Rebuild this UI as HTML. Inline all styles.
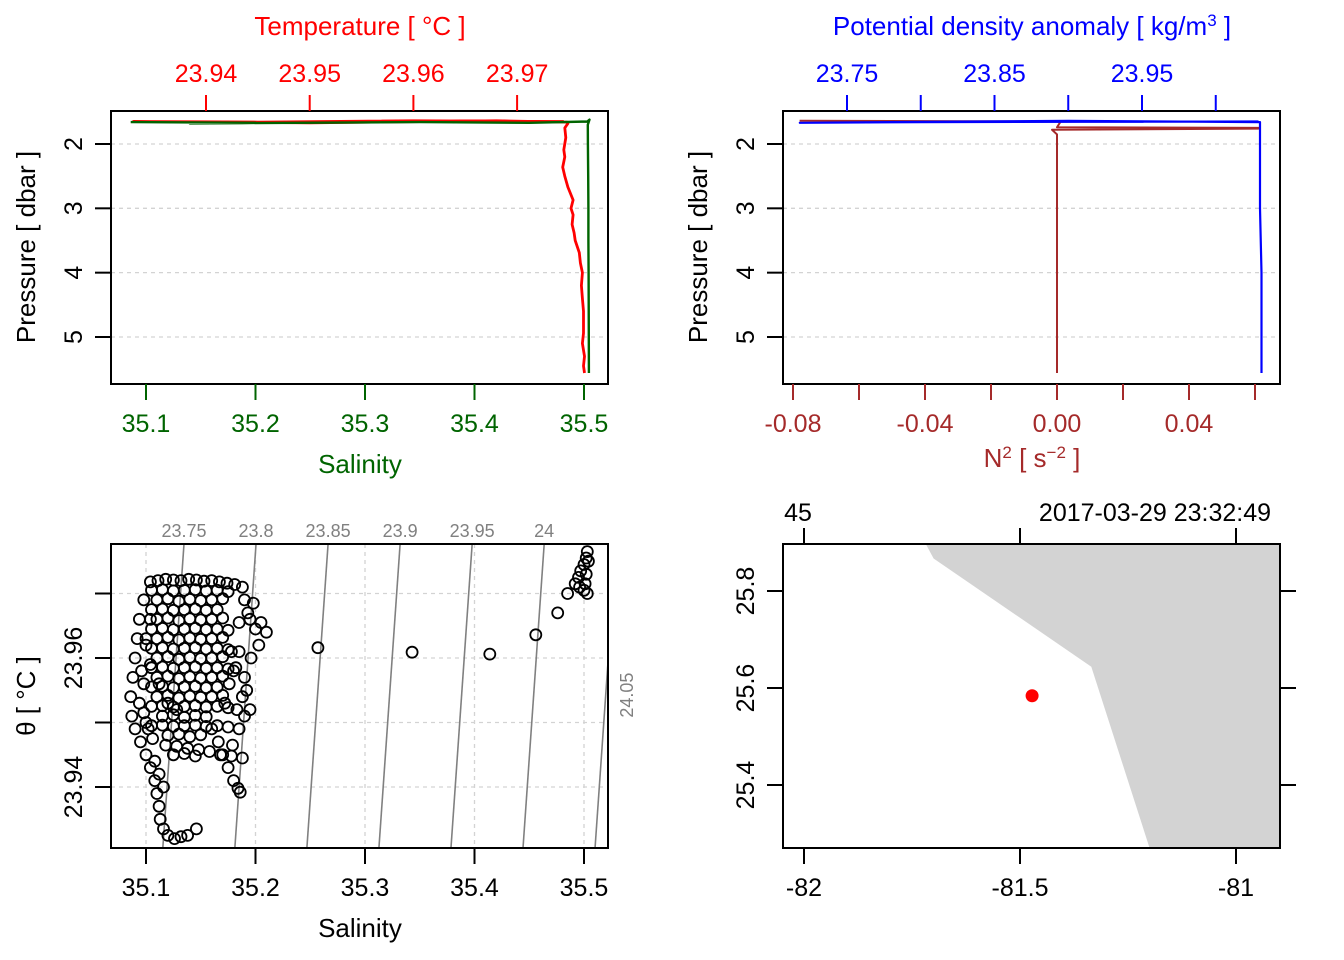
<!DOCTYPE html>
<html><head><meta charset="utf-8"><style>
html,body{margin:0;padding:0;background:#fff}
svg{display:block;font-family:"Liberation Sans",sans-serif}
</style></head><body>
<svg id="s" width="1344" height="960" viewBox="0 0 1344 960">
<defs>
<clipPath id="c1"><rect x="111" y="111" width="497" height="273"/></clipPath>
<clipPath id="c2"><rect x="783" y="111" width="497" height="273"/></clipPath>
<clipPath id="c3"><rect x="111" y="544" width="497" height="304"/></clipPath>
<clipPath id="c4"><rect x="783" y="544" width="497" height="304"/></clipPath>
</defs>
</svg>
<script>
// ---- data ----
const salTicks=[35.1,35.2,35.3,35.4,35.5];
const tempTicks=[23.94,23.95,23.96,23.97];
const presTicks=[2,3,4,5];
const sigTicks=[23.75,23.80,23.85,23.90,23.95,24.00];
const sigTickLabels=["23.75","","23.85","","23.95",""];
const n2Ticks=[-0.08,-0.06,-0.04,-0.02,0.00,0.02,0.04,0.06];
const n2TickLabels=["-0.08","","-0.04","","0.00","","0.04",""];
const thetaTicks=[23.94,23.95,23.96,23.97];
const thetaTickLabels=["23.94","","23.96",""];
const isoLevels=[23.75,23.8,23.85,23.9,23.95,24,24.05];
const isoLabels=["23.75","23.8","23.85","23.9","23.95","24","24.05"];
const lonTicks=[-82,-81.5,-81];
const latTicks=[25.4,25.6,25.8];
// temperature profile
const tPres=[1.65,1.64,1.66,1.65,1.67,1.64,1.66,1.68,1.75,1.9,2.09,2.2,2.36,2.5,2.67,2.87,3.0,3.1,3.25,3.38,3.5,3.69,3.85,4.0,4.2,4.4,4.6,4.94,5.1,5.3,5.45,5.56];
const tTemp=[23.9745,23.960,23.945,23.933,23.950,23.968,23.9748,23.9749,23.9746,23.9747,23.9745,23.9746,23.9744,23.9746,23.9749,23.9754,23.9752,23.9754,23.9753,23.9755,23.9756,23.9760,23.9761,23.9763,23.9762,23.9763,23.9764,23.9764,23.9763,23.9765,23.9764,23.9765];
// salinity profile
const sPres=[1.66,1.67,1.68,1.66,1.67,1.65,1.62,1.70,2.0,2.5,3.0,3.5,4.0,4.5,5.0,5.56];
const sSal=[35.086,35.20,35.14,35.35,35.45,35.503,35.505,35.5035,35.5036,35.5038,35.504,35.504,35.5042,35.5043,35.5044,35.5045];
// density profile
const dPres=[1.65,1.66,1.67,1.64,1.66,1.70,2.0,3.0,4.0,5.0,5.56];
const dSig=[24.029,23.80,23.718,23.90,24.030,24.030,24.030,24.030,24.031,24.031,24.031];
// N2 profile
const nPres=[1.64,1.65,1.66,1.74,1.75,1.76,1.78,1.85,2.5,3.5,4.5,5.56];
const nN2=[-0.078,0.0,0.001,0.0,0.0615,0.061,-0.0015,0.0,0.0,0.0,0.0,0.0];
// TS scatter
const tsSal=[35.104,35.111,35.118,35.125,35.132,35.139,35.146,35.153,35.160,35.167,35.174,35.181,
35.098,35.094,35.092,35.090,35.088,35.086,35.087,35.090,35.095,35.100,35.104,35.108,35.110,
35.112,35.113,35.116,35.120,35.126,35.132,35.138,35.146,
35.188,35.190,35.193,35.200,35.210,35.203,35.196,35.190,35.188,35.190,35.185,
35.160,35.166,35.170,35.175,35.180,35.184,35.186,
35.110,35.120,35.130,35.140,35.150,35.160,35.170,35.110,35.120,35.130,35.140,35.150,35.160,35.170,
35.110,35.120,35.130,35.140,35.150,35.160,35.170,35.110,35.120,35.130,35.140,35.150,35.160,35.170,
35.110,35.120,35.130,35.140,35.150,35.160,35.170,35.110,35.120,35.130,35.140,35.150,35.160,35.170,
35.105,35.115,35.125,35.135,35.145,35.155,35.165,35.105,35.115,35.125,35.135,35.145,35.155,35.165,
35.115,35.125,35.135,35.145,35.155,35.120,35.130,35.140,35.150,35.125,35.135,35.145,
35.100,35.105,35.112,35.120,35.128,35.100,35.098,35.104,35.178,35.182,35.176,35.172,35.183,35.179,
35.257,35.343,35.414,35.456,35.476,35.485,
35.492,35.495,35.497,35.500,35.502,35.503,35.504,35.502,35.501,35.503,35.500,35.496];
const tsTheta=[23.9718,23.9720,23.9722,23.9721,23.9720,23.9722,23.9721,23.9719,23.9720,23.9718,23.9716,23.9714,
23.9690,23.9660,23.9630,23.9600,23.9570,23.9540,23.9510,23.9490,23.9470,23.9450,23.9430,23.9410,23.9390,
23.9370,23.9350,23.9335,23.9325,23.9320,23.9323,23.9325,23.9335,
23.9710,23.9690,23.9670,23.9645,23.9640,23.9620,23.9600,23.9570,23.9540,23.9510,23.9490,
23.9490,23.9470,23.9450,23.9430,23.9410,23.9398,23.9392,
23.9690,23.9692,23.9688,23.9691,23.9689,23.9690,23.9692,23.9660,23.9662,23.9658,23.9661,23.9659,23.9660,23.9662,
23.9630,23.9632,23.9628,23.9631,23.9629,23.9630,23.9632,23.9600,23.9602,23.9598,23.9601,23.9599,23.9600,23.9602,
23.9570,23.9572,23.9568,23.9571,23.9569,23.9570,23.9572,23.9540,23.9542,23.9538,23.9541,23.9539,23.9540,23.9542,
23.9675,23.9676,23.9674,23.9675,23.9676,23.9674,23.9675,23.9555,23.9556,23.9554,23.9555,23.9556,23.9554,23.9555,
23.9510,23.9512,23.9508,23.9511,23.9509,23.9480,23.9482,23.9478,23.9481,23.9450,23.9452,23.9448,
23.9620,23.9585,23.9560,23.9530,23.9520,23.9500,23.9560,23.9590,23.9610,23.9585,23.9560,23.9530,23.9520,23.9465,
23.9616,23.9609,23.9606,23.9636,23.9670,23.9700,
23.9715,23.9725,23.9735,23.9745,23.9755,23.9765,23.9750,23.9730,23.9715,23.9700,23.9705,23.9710];
// additional TS observations (dense core)
const tsSal2=[35.105,35.115,35.125,35.135,35.145,35.155,35.165,35.175,
35.105,35.115,35.125,35.135,35.145,35.155,35.165,35.175,
35.105,35.115,35.125,35.135,35.145,35.155,35.165,35.175,
35.105,35.115,35.125,35.135,35.145,35.155,35.165,35.175,
35.105,35.115,35.125,35.135,35.145,35.155,35.165,35.175,
35.105,35.115,35.125,35.135,35.145,35.155,35.165,35.175,
35.118,35.128,35.138,35.148,35.158,35.168,35.178,35.188,
35.195,35.205,35.198,35.185,35.192,35.195,35.180,35.185,
35.094,35.098,35.102,35.106,35.096,35.100,35.104,35.108,35.112,35.116];
const tsTheta2=[23.9705,23.9706,23.9704,23.9705,23.9706,23.9704,23.9705,23.9703,
23.9645,23.9646,23.9644,23.9645,23.9646,23.9644,23.9645,23.9643,
23.9615,23.9616,23.9614,23.9615,23.9616,23.9614,23.9615,23.9613,
23.9585,23.9586,23.9584,23.9585,23.9586,23.9584,23.9585,23.9583,
23.9525,23.9526,23.9524,23.9525,23.9526,23.9524,23.9525,23.9523,
23.9495,23.9496,23.9494,23.9495,23.9496,23.9494,23.9495,23.9493,
23.9465,23.9463,23.9460,23.9458,23.9455,23.9450,23.9448,23.9445,
23.9660,23.9655,23.9685,23.9655,23.9550,23.9520,23.9580,23.9610,
23.9530,23.9515,23.9490,23.9475,23.9580,23.9630,23.9660,23.9440,23.9420,23.9400];
// map
const landLon=[-81.72,-81.70,-81.335,-81.20,-80.9,-80.9];
const landLat=[25.9,25.867,25.644,25.27,25.27,25.9];
const stnLon=[-81.472];
const stnLat=[25.584];

// ---- scales ----
const sx=S=>146+(S-35.1)*1095;
const tx=T=>206+(T-23.94)*10370;
const py=p=>144+(p-2)*64.33;
const dx=g=>847+(g-23.75)*1475;
const nx=n=>1057+n*3300;
const ty=T=>658-(T-23.96)*6450;
const lx=l=>804+(l+82)*432;
const ly=l=>591-(l-25.8)*485;

const svg=document.getElementById('s');
const NS='http://www.w3.org/2000/svg';
function mk(tag,attrs,parent){const e=document.createElementNS(NS,tag);for(const k in attrs)e.setAttribute(k,attrs[k]);(parent||svg).appendChild(e);return e;}
function txt(x,y,s,size,fill,anchor,rot,name){const e=mk('text',{x:x,y:y,'font-size':size,fill:fill,'text-anchor':anchor||'middle'});if(rot)e.setAttribute('transform','rotate(-90 '+x+' '+y+')');e.textContent=s;


return e;}
function line(x1,y1,x2,y2,stroke,w,name,dash){const e=mk('line',{x1:x1,y1:y1,x2:x2,y2:y2,stroke:stroke,'stroke-width':w||1});if(dash)e.setAttribute('stroke-dasharray',dash);


return e;}
function poly(xs,ys,stroke,w,clip,name){const pts=xs.map((x,i)=>x.toFixed(1)+','+ys[i].toFixed(1)).join(' ');const e=mk('polyline',{points:pts,fill:'none',stroke:stroke,'stroke-width':w,'clip-path':'url(#'+clip+')','stroke-linejoin':'round'});


return e;}
function box(x,y,w,h,name){const e=mk('rect',{x:x,y:y,width:w,height:h,fill:'none',stroke:'#000','stroke-width':2});

}
const GRID='#d3d3d3', RED='#ff0000', GRN='#006400', BLU='#0000ff', BRN='#a52a2a', GRY='#808080';
const FS=25;

// ===== Panel 1 =====
presTicks.forEach(p=>line(111,py(p),608,py(p),GRID,1.3,'pressure-gridline','4,4'));
poly(tTemp.map(tx),tPres.map(py),RED,2.8,'c1','temperature-profile');
poly(sSal.map(sx),sPres.map(py),GRN,2.4,'c1','salinity-profile');
box(111,111,497,273,'profile-panel-frame');
salTicks.forEach(s=>{line(sx(s),384,sx(s),400,GRN,2,'salinity-tick');txt(sx(s),432,s.toFixed(1),FS,GRN,'middle',0,'salinity-tick-label');});
txt(360,473,'Salinity',FS+1,GRN,'middle',0,'salinity-axis-title');
tempTicks.forEach(t=>{line(tx(t),95,tx(t),111,RED,2,'temperature-tick');txt(tx(t),82,t.toFixed(2),FS,RED,'middle',0,'temperature-tick-label');});
txt(360,35,'Temperature [ °C ]',FS+1,RED,'middle',0,'temperature-axis-title');
presTicks.forEach(p=>{line(95,py(p),111,py(p),'#000',2,'pressure-tick');txt(82,py(p),String(p),FS,'#000','middle',1,'pressure-tick-label');});
txt(35,247,'Pressure [ dbar ]',FS+1,'#000','middle',1,'pressure-axis-title');

// ===== Panel 2 =====
presTicks.forEach(p=>line(783,py(p),1280,py(p),GRID,1.3,'pressure-gridline-2','4,4'));
poly(nN2.map(nx),nPres.map(py),BRN,2,'c2','n2-profile');
poly(dSig.map(dx),dPres.map(py),BLU,2.2,'c2','density-profile');
box(783,111,497,273,'density-panel-frame');
sigTicks.forEach((g,i)=>{line(dx(g),95,dx(g),111,BLU,2,'density-tick');if(sigTickLabels[i])txt(dx(g),82,sigTickLabels[i],FS,BLU,'middle',0,'density-tick-label');});
(function(){const t=txt(1032,35,'',FS+1,BLU,'middle',0,'density-axis-title');t.innerHTML='Potential density anomaly [ kg/m<tspan dy="-9" font-size="17">3</tspan><tspan dy="9"> ]</tspan>';})();
n2Ticks.forEach((n,i)=>{line(nx(n),384,nx(n),400,BRN,2,'n2-tick');if(n2TickLabels[i])txt(nx(n),432,n2TickLabels[i],FS,BRN,'middle',0,'n2-tick-label');});
(function(){const t=txt(1032,467,'',FS+1,BRN,'middle',0,'n2-axis-title');t.innerHTML='N<tspan dy="-9" font-size="17">2</tspan><tspan dy="9"> [ s</tspan><tspan dy="-9" font-size="17">−2</tspan><tspan dy="9"> ]</tspan>';})();
presTicks.forEach(p=>{line(767,py(p),783,py(p),'#000',2,'pressure-tick-2');txt(754,py(p),String(p),FS,'#000','middle',1,'pressure-tick-label-2');});
txt(707,247,'Pressure [ dbar ]',FS+1,'#000','middle',1,'pressure-axis-title-2');

// ===== Panel 3 =====
salTicks.forEach(s=>line(sx(s),544,sx(s),848,GRID,1.3,'ts-vertical-gridline','4,4'));
thetaTicks.forEach(t=>line(111,ty(t),608,ty(t),GRID,1.3,'ts-horizontal-gridline','4,4'));
const Ttop=23.9777,Tbot=23.9305;
const isoS=(g,T)=>35.1347+(g-23.75)/0.76+0.41*(T-Ttop);
isoLevels.forEach((g,i)=>{
  line(sx(isoS(g,Ttop)),544,sx(isoS(g,Tbot)),848,GRY,1.6,'isopycnal-line').setAttribute('clip-path','url(#c3)');
  const xt=sx(isoS(g,Ttop));
  if(xt<=608) txt(xt,537,isoLabels[i],18,GRY,'middle',0,'isopycnal-label');
  else { const f=(xt-608)/(xt-sx(isoS(g,Tbot))); const yy=544+f*304; txt(633,yy+33,isoLabels[i],18,GRY,'middle',1,'isopycnal-label'); }
});
const pts=mk('g',{fill:'none',stroke:'#000','stroke-width':1.8,'clip-path':'url(#c3)'});


tsSal.forEach((s,i)=>{const c=mk('circle',{cx:sx(s).toFixed(1),cy:ty(tsTheta[i]).toFixed(1),r:5.5},pts);

});
tsSal2.forEach((s,i)=>{const c=mk('circle',{cx:sx(s).toFixed(1),cy:ty(tsTheta2[i]).toFixed(1),r:5.5},pts);

});
box(111,544,497,304,'ts-panel-frame');
salTicks.forEach(s=>{line(sx(s),848,sx(s),864,'#000',2,'ts-salinity-tick');txt(sx(s),896,s.toFixed(1),FS,'#000','middle',0,'ts-salinity-tick-label');});
txt(360,937,'Salinity',FS+1,'#000','middle',0,'ts-salinity-axis-title');
thetaTicks.forEach((t,i)=>{line(95,ty(t),111,ty(t),'#000',2,'theta-tick');if(thetaTickLabels[i])txt(82,ty(t),thetaTickLabels[i],FS,'#000','middle',1,'theta-tick-label');});
txt(35,696,'θ [ °C ]',FS+1,'#000','middle',1,'theta-axis-title');

// ===== Panel 4 map =====
(function(){const pts=landLon.map((l,i)=>lx(l).toFixed(1)+','+ly(landLat[i]).toFixed(1)).join(' ');const e=mk('polygon',{points:pts,fill:'#d3d3d3',stroke:'none','clip-path':'url(#c4)'});

})();
stnLon.forEach((l,i)=>{const c=mk('circle',{cx:lx(l),cy:ly(stnLat[i]),r:6.5,fill:RED});

});
box(783,544,497,304,'map-panel-frame');
lonTicks.forEach(l=>{line(lx(l),848,lx(l),864,'#000',2,'longitude-tick');line(lx(l),528,lx(l),544,'#000',2,'top-tick');txt(lx(l),896,String(l),FS,'#000','middle',0,'longitude-tick-label');});
latTicks.forEach(l=>{line(767,ly(l),783,ly(l),'#000',2,'latitude-tick');line(1280,ly(l),1296,ly(l),'#000',2,'latitude-tick-right');txt(754,ly(l),l.toFixed(1),FS,'#000','middle',1,'latitude-tick-label');});
txt(798,521,'45',FS,'#000','middle',0,'station-label');
txt(1155,521,'2017-03-29 23:32:49',FS,'#000','middle',0,'station-time-label');
</script>
</body></html>
